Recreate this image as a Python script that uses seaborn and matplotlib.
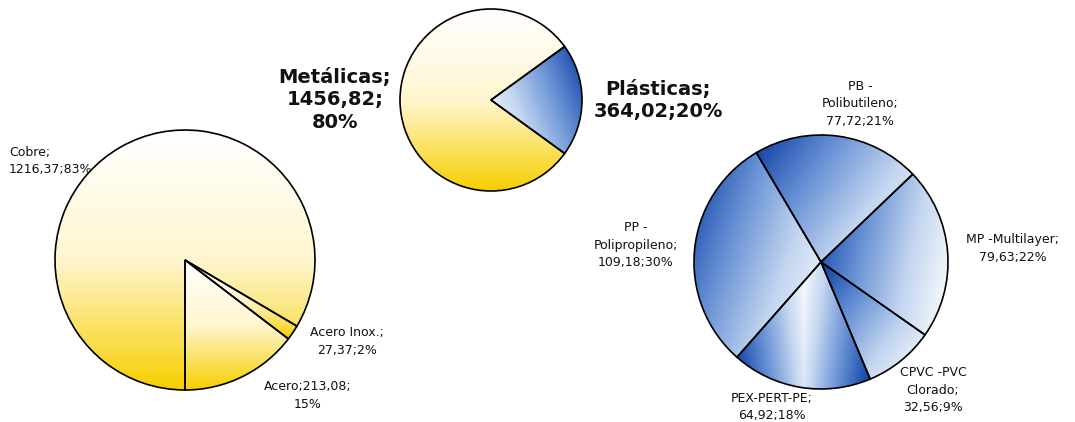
import numpy as np
import matplotlib
matplotlib.use("Agg")
import matplotlib.pyplot as plt
import seaborn as sns

sns.set_theme(style="white")
plt.rcParams['font.family'] = ['DejaVu Sans']

# ---- data ----
metal_names = ['Cobre', 'Acero Inox.', 'Acero']
metal_values = [1216.37, 27.37, 213.08]

group_names = ['Metálicas', 'Plásticas']
group_values = [1456.82, 364.02]

plastic_names = ['PB -\nPolibutileno', 'MP -Multilayer', 'CPVC -PVC\nClorado', 'PEX-PERT-PE', 'PP -\nPolipropileno']
plastic_values = [77.72, 79.63, 32.56, 64.92, 109.18]

# ---- colours ----
yellow = sns.blend_palette(['#FFFFFF', '#FFF6D0', '#F6CF00'], as_cmap=True)
blue = sns.blend_palette(['#FFFFFF', '#C4D6F0', '#6690D4', '#0A3CA2'], as_cmap=True)


def fmt(v):
    return f"{v:.2f}".replace('.', ',')


def shade(ax, wedge, cmap, angle, mode='linear'):
    # gradient over the bounding box of the wedge, clipped to it
    cx, cy = wedge.center
    r = wedge.r
    th = np.radians(np.linspace(wedge.theta1, wedge.theta2, 100))
    xs = np.concatenate([[cx], cx + r * np.cos(th)])
    ys = np.concatenate([[cy], cy + r * np.sin(th)])
    x0, x1, y0, y1 = xs.min(), xs.max(), ys.min(), ys.max()
    gx, gy = np.meshgrid(np.linspace(0, 1, 200), np.linspace(0, 1, 200))
    if mode == 'mirror':
        t = np.abs(2 * gx - 1) ** 0.8
        t = 0.8 * t + 0.2 * (1 - gy)
    else:
        a = np.radians(angle)
        p = (gx - 0.5) * np.cos(a) + (gy - 0.5) * np.sin(a)
        t = (p - p.min()) / (p.max() - p.min())
    im = ax.imshow(t, extent=[x0, x1, y0, y1], origin='lower', cmap=cmap,
                   vmin=0, vmax=1, interpolation='bilinear', zorder=1, aspect='auto')
    im.set_clip_path(wedge)


fig = plt.figure(figsize=(10.75, 4.22), dpi=100)
ax = fig.add_axes([0, 0, 1, 1])

edge = dict(edgecolor='black', linewidth=1.2, facecolor='none')

# left pie: metals
w1, _ = ax.pie(metal_values, center=(185, 162), radius=130, startangle=270,
               counterclock=False, wedgeprops=edge, frame=True)
for w in w1:
    w.set_zorder(2)
    shade(ax, w, yellow, -90)

# middle pie: totals
w2, _ = ax.pie(group_values, center=(491, 322), radius=91, startangle=-324,
               counterclock=True, wedgeprops=edge, frame=True)
for w, nm in zip(w2, group_names):
    w.set_zorder(2)
    if nm == 'Plásticas':
        shade(ax, w, blue, 25)
    else:
        shade(ax, w, yellow, -90)

# right pie: plastics
w3, _ = ax.pie(plastic_values, center=(821, 160), radius=127, startangle=120.6,
               counterclock=False, wedgeprops=edge, frame=True)
blue_dirs = [150, 165, 140, None, 150]
for w, d in zip(w3, blue_dirs):
    w.set_zorder(2)
    if d is None:
        shade(ax, w, blue, 0, mode='mirror')
    else:
        shade(ax, w, blue, d)

ax.set_xlim(0, 1075)
ax.set_ylim(0, 422)
ax.set_aspect('equal')
ax.axis('off')

# ---- labels ----
small = dict(fontsize=9, color='#111111', linespacing=1.45, va='center')
mt = sum(metal_values)
metal_pos = [(9, 261, 'left'), (347, 80.5, 'center'), (308, 26.5, 'center')]
metal_text = [
    f"{metal_names[0]};\n{fmt(metal_values[0])};{round(metal_values[0] / mt * 100)}%",
    f"{metal_names[1]};\n{fmt(metal_values[1])};{round(metal_values[1] / mt * 100)}%",
    f"{metal_names[2]};{fmt(metal_values[2])};\n{round(metal_values[2] / mt * 100)}%",
]
for (x, y, ha), s in zip(metal_pos, metal_text):
    ax.text(x, y, s, ha=ha, **small)

gt = sum(group_values)
big = dict(fontsize=14, fontweight='bold', color='#111111', linespacing=1.2, va='center', ha='center')
ax.text(335, 322, f"{group_names[0]};\n{fmt(group_values[0])};\n{round(group_values[0] / gt * 100)}%", **big)
ax.text(658, 322, f"{group_names[1]};\n{fmt(group_values[1])};{round(group_values[1] / gt * 100)}%", **big)

pt = sum(plastic_values)
plastic_pos = [(860, 318), (1013, 173.5), (933, 31.5), (772, 15), (636, 177)]
for (x, y), nm, v in zip(plastic_pos, plastic_names, plastic_values):
    ax.text(x, y, f"{nm};\n{fmt(v)};{round(v / pt * 100)}%", ha='center', **small)

fig.savefig('out.png', dpi=100, facecolor='white')
